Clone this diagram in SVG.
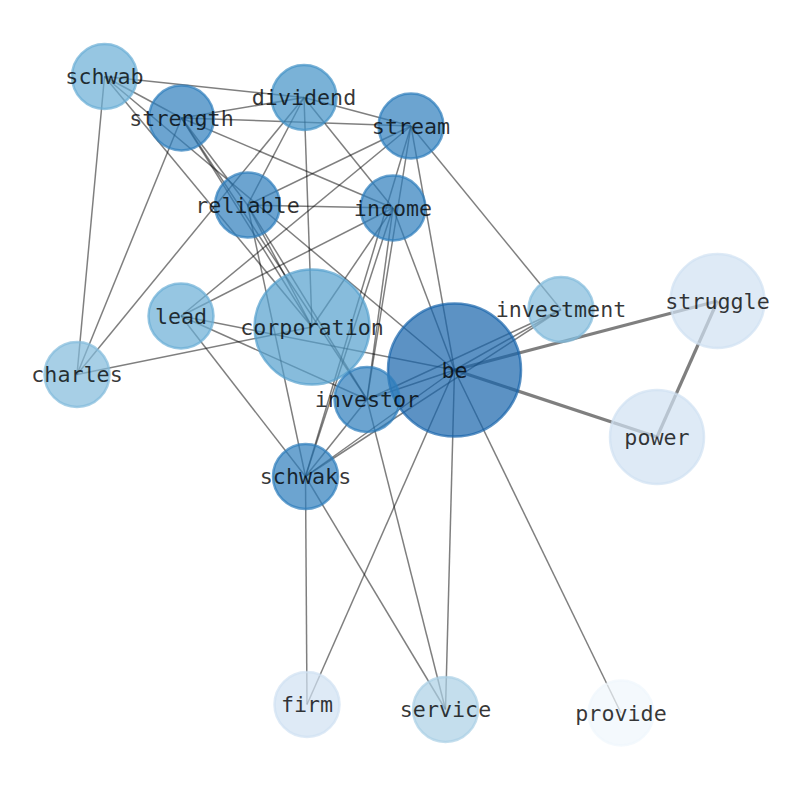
<svg xmlns="http://www.w3.org/2000/svg" width="794" height="790" viewBox="0 0 794 790">
<style>
.e line{stroke:#000;stroke-opacity:0.5;stroke-width:1.5}
.e line.t{stroke-width:3.2}
circle{fill-opacity:0.7;stroke-opacity:0.7;stroke-width:2.5}
.c1{fill:#1764ab;stroke:#1764ab}
.c2{fill:#2e7ebc;stroke:#2e7ebc}
.c3{fill:#4292c6;stroke:#4292c6}
.c4{fill:#549fcd;stroke:#549fcd}
.c5{fill:#6aaed6;stroke:#6aaed6}
.c6{fill:#82bbdb;stroke:#82bbdb}
.c7{fill:#abd0e6;stroke:#abd0e6}
.c8{fill:#d0e1f2;stroke:#d0e1f2}
.c9{fill:#eff6fc;stroke:#eff6fc}
text{font-family:"DejaVu Sans Mono",monospace;font-size:21.7px;fill:#000;fill-opacity:0.78;text-anchor:middle;dominant-baseline:central}
</style>
<rect width="794" height="790" fill="#fff"/>
<g id="edges" class="e">
<line x1="104.5" y1="76.5" x2="304" y2="97.5"/>
<line x1="104.5" y1="76.5" x2="77" y2="374.5"/>
<line x1="104.5" y1="76.5" x2="181.5" y2="118"/>
<line x1="104.5" y1="76.5" x2="454.5" y2="370"/>
<line x1="104.5" y1="76.5" x2="312" y2="327"/>
<line x1="181.5" y1="118" x2="304" y2="97.5"/>
<line x1="181.5" y1="118" x2="411" y2="126"/>
<line x1="181.5" y1="118" x2="393" y2="208"/>
<line x1="181.5" y1="118" x2="77" y2="374.5"/>
<line x1="181.5" y1="118" x2="312" y2="327"/>
<line x1="181.5" y1="118" x2="367" y2="399.5"/>
<line x1="181.5" y1="118" x2="247.5" y2="205"/>
<line x1="304" y1="97.5" x2="411" y2="126"/>
<line x1="304" y1="97.5" x2="77" y2="374.5"/>
<line x1="304" y1="97.5" x2="312" y2="327"/>
<line x1="304" y1="97.5" x2="247.5" y2="205"/>
<line x1="304" y1="97.5" x2="393" y2="208"/>
<line x1="411" y1="126" x2="247.5" y2="205"/>
<line x1="411" y1="126" x2="181" y2="316"/>
<line x1="411" y1="126" x2="561" y2="309.5"/>
<line x1="411" y1="126" x2="454.5" y2="370"/>
<line x1="411" y1="126" x2="305.5" y2="476.5"/>
<line x1="411" y1="126" x2="367" y2="399.5"/>
<line x1="247.5" y1="205" x2="393" y2="208"/>
<line x1="247.5" y1="205" x2="312" y2="327"/>
<line x1="247.5" y1="205" x2="367" y2="399.5"/>
<line x1="247.5" y1="205" x2="305.5" y2="476.5"/>
<line x1="393" y1="208" x2="181" y2="316"/>
<line x1="393" y1="208" x2="312" y2="327"/>
<line x1="393" y1="208" x2="454.5" y2="370"/>
<line x1="393" y1="208" x2="305.5" y2="476.5"/>
<line x1="393" y1="208" x2="367" y2="399.5"/>
<line x1="181" y1="316" x2="454.5" y2="370"/>
<line x1="181" y1="316" x2="367" y2="399.5"/>
<line x1="181" y1="316" x2="305.5" y2="476.5"/>
<line x1="77" y1="374.5" x2="312" y2="327"/>
<line x1="561" y1="309.5" x2="454.5" y2="370"/>
<line x1="561" y1="309.5" x2="367" y2="399.5"/>
<line x1="561" y1="309.5" x2="305.5" y2="476.5"/>
<line class="t" x1="454.5" y1="370" x2="717.5" y2="301"/>
<line class="t" x1="454.5" y1="370" x2="657" y2="437"/>
<line class="t" x1="717.5" y1="301" x2="657" y2="437"/>
<line x1="454.5" y1="370" x2="367" y2="399.5"/>
<line x1="454.5" y1="370" x2="305.5" y2="476.5"/>
<line x1="454.5" y1="370" x2="445.5" y2="709.5"/>
<line x1="454.5" y1="370" x2="307" y2="704.5"/>
<line x1="454.5" y1="370" x2="621" y2="713"/>
<line x1="367" y1="399.5" x2="305.5" y2="476.5"/>
<line x1="367" y1="399.5" x2="445.5" y2="709.5"/>
<line x1="305.5" y1="476.5" x2="307" y2="704.5"/>
<line x1="305.5" y1="476.5" x2="445.5" y2="709.5"/>
</g>
<g id="node-schwab"><circle class="c5" cx="104.5" cy="76.5" r="32.5"/><text x="104.5" y="76.5">schwab</text></g>
<g id="node-dividend"><circle class="c3" cx="304" cy="97.5" r="32.5"/><text x="304" y="97.5">dividend</text></g>
<g id="node-strength"><circle class="c2" cx="181.5" cy="118" r="32.5"/><text x="181.5" y="118">strength</text></g>
<g id="node-stream"><circle class="c2" cx="411" cy="126" r="32.5"/><text x="411" y="126">stream</text></g>
<g id="node-reliable"><circle class="c2" cx="247.5" cy="205" r="32.5"/><text x="247.5" y="205">reliable</text></g>
<g id="node-income"><circle class="c2" cx="393" cy="208" r="32.5"/><text x="393" y="208">income</text></g>
<g id="node-lead"><circle class="c5" cx="181" cy="316" r="32.5"/><text x="181" y="316">lead</text></g>
<g id="node-corporation"><circle class="c4" cx="312" cy="327" r="57.5"/><text x="312" y="327">corporation</text></g>
<g id="node-charles"><circle class="c6" cx="77" cy="374.5" r="32.5"/><text x="77" y="374.5">charles</text></g>
<g id="node-investment"><circle class="c6" cx="561" cy="309.5" r="32.5"/><text x="561" y="309.5">investment</text></g>
<g id="node-struggle"><circle class="c8" cx="717.5" cy="301" r="47"/><text x="717.5" y="301">struggle</text></g>
<g id="node-be"><circle class="c1" cx="454.5" cy="370" r="66.5"/><text x="454.5" y="370">be</text></g>
<g id="node-investor"><circle class="c2" cx="367" cy="399.5" r="32.5"/><text x="367" y="399.5">investor</text></g>
<g id="node-power"><circle class="c8" cx="657" cy="437" r="47"/><text x="657" y="437">power</text></g>
<g id="node-schwaks"><circle class="c2" cx="305.5" cy="476.5" r="32.5"/><text x="305.5" y="476.5">schwaks</text></g>
<g id="node-firm"><circle class="c8" cx="307" cy="704.5" r="32.5"/><text x="307" y="704.5">firm</text></g>
<g id="node-service"><circle class="c7" cx="445.5" cy="709.5" r="32.5"/><text x="445.5" y="709.5">service</text></g>
<g id="node-provide"><circle class="c9" cx="621" cy="713" r="32.5"/><text x="621" y="713">provide</text></g>
</svg>
